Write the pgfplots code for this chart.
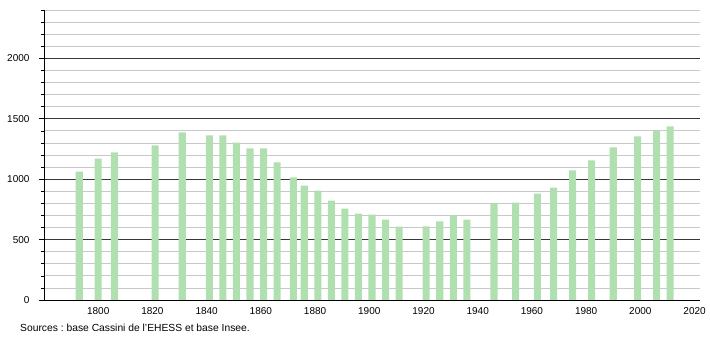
\documentclass[border=0pt]{standalone}
\usepackage{pgfplots}
\pgfplotsset{compat=1.18}
\usepackage{fontspec}
\setmainfont{Liberation Sans}
\definecolor{barg}{RGB}{176,224,176}
\definecolor{majg}{RGB}{55,55,55}
\definecolor{ming}{RGB}{200,200,200}
\begin{document}
\frenchspacing
\begin{tikzpicture}
\useasboundingbox (0,0) rectangle (710pt,340pt);
\begin{axis}[
  at={(44pt,40pt)}, anchor=south west,
  scale only axis, width=656pt, height=290pt,
  xmin=1780, xmax=2022, ymin=0, ymax=2400,
  axis x line=bottom, axis y line=left, axis line style={-, black, line width=0.9pt},
  xtick={1800,1820,...,2020},
  xticklabel style={/pgf/number format/1000 sep={}, yshift=1pt},
  x tick style={draw=none},
  ytick={0,500,...,2000}, minor ytick={100,200,...,2400},
  yticklabel style={/pgf/number format/1000 sep={}, xshift=-6pt},
  tick align=outside,
  major tick length=5pt, minor tick length=3pt,
  y tick style={black, line width=0.6pt},
  ymajorgrids, yminorgrids,
  major grid style={majg, line width=0.8pt},
  minor grid style={ming, line width=0.8pt},
  /pgf/number format/assume math mode=true,
  tick label style={font=\fontsize{10}{12}\selectfont},
  ybar, bar width=2.6,
  clip=false,
]
\addplot[fill=barg, draw=none] coordinates {
(1793,1063) (1800,1170) (1806,1221) (1821,1280) (1831,1388) (1841,1363)
(1846,1363) (1851,1303) (1856,1255) (1861,1255) (1866,1138) (1872,1014)
(1876,947) (1881,906) (1886,823) (1891,756) (1896,715) (1901,706)
(1906,665) (1911,608) (1921,609) (1926,650) (1931,700) (1936,665)
(1946,798) (1954,806) (1962,881) (1968,931) (1975,1072) (1982,1155)
(1990,1263) (1999,1354) (2006,1402) (2011,1437)
};
\end{axis}
\node[anchor=west, inner sep=0pt, font=\fontsize{10.3}{12}\selectfont] at (20pt,12pt) {Sources : base Cassini de l'EHESS et base Insee.};
\end{tikzpicture}
\end{document}
